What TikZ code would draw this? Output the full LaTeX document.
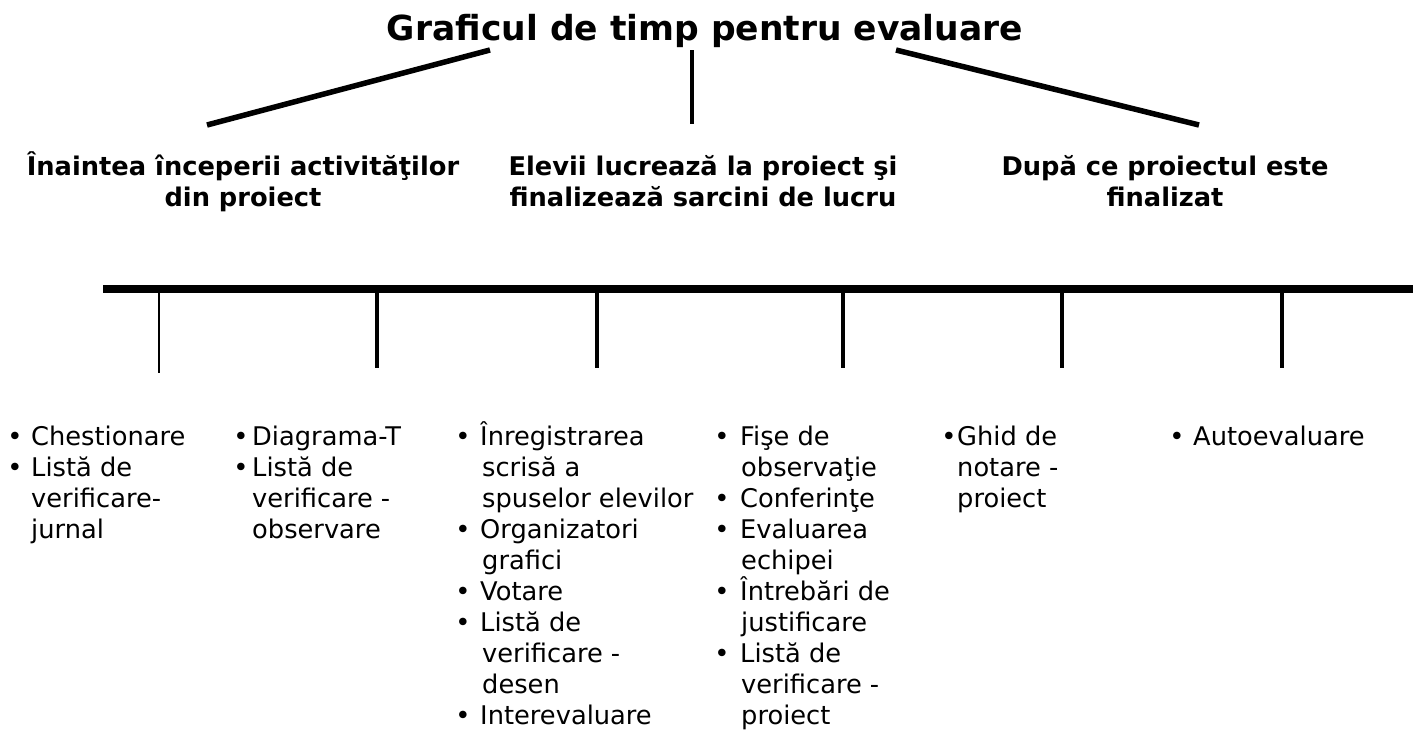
\documentclass[tikz,border=0pt]{standalone}
\usepackage{fontspec}
\setmainfont{DejaVu Sans}
\tikzset{
  txt/.style={font=\fontsize{25.7}{31}\selectfont, inner sep=0pt, anchor=base west},
  bul/.style={font=\fontsize{25.7}{31}\selectfont, inner sep=0pt, anchor=base},
  hd/.style={font=\bfseries\fontsize{25.7}{31}\selectfont, inner sep=0pt, anchor=base},
  ttl/.style={font=\bfseries\fontsize{34.5}{40}\selectfont, inner sep=0pt, anchor=base},
  slant/.style={line width=5.5pt},
  axis/.style={line width=7.5pt},
  tick/.style={line width=4pt},
  thintick/.style={line width=2pt}
}
\begin{document}
\begin{tikzpicture}[x=1pt,y=-1pt]
\useasboundingbox (0,0) rectangle (1413,731);
% title
\node[ttl] (title) at (705,40) {Graficul de timp pentru evaluare};
% branch lines
\coordinate (l1s) at (490,50); \coordinate (l1e) at (207,125);
\coordinate (l2s) at (692,50); \coordinate (l2e) at (692,124);
\coordinate (l3s) at (896,50); \coordinate (l3e) at (1199,125);
\draw[slant] (l1s) -- (l1e);
\draw[line width=3.5pt] (l2s) -- (l2e);
\draw[slant] (l3s) -- (l3e);
% headings
\node[hd] (h1a) at (243,175) {Înaintea începerii activităţilor};
\node[hd] (h1b) at (243,206) {din proiect};
\node[hd] (h2a) at (703,175) {Elevii lucrează la proiect şi};
\node[hd] (h2b) at (703,206) {finalizează sarcini de lucru};
\node[hd] (h3a) at (1165,175) {După ce proiectul este};
\node[hd] (h3b) at (1165,206) {finalizat};
% timeline
\coordinate (ta) at (103,289); \coordinate (tb) at (1413,289);
\draw[axis] (ta) -- (tb);
\coordinate (t1) at (159,289); \coordinate (t1e) at (159,373);
\coordinate (t2) at (377,289); \coordinate (t2e) at (377,368);
\coordinate (t3) at (597,289); \coordinate (t3e) at (597,368);
\coordinate (t4) at (843,289); \coordinate (t4e) at (843,368);
\coordinate (t5) at (1062,289); \coordinate (t5e) at (1062,368);
\coordinate (t6) at (1282,289); \coordinate (t6e) at (1282,368);
\draw[thintick] (t1) -- (t1e);
\draw[tick] (t2) -- (t2e);
\draw[tick] (t3) -- (t3e);
\draw[tick] (t4) -- (t4e);
\draw[tick] (t5) -- (t5e);
\draw[tick] (t6) -- (t6e);
% column 1
\node[bul] (b11) at (15,445) {•};
\node[txt] (c11) at (31,445) {Chestionare};
\node[bul] (b12) at (15,476) {•};
\node[txt] (c12) at (31,476) {Listă de};
\node[txt] (c13) at (31,507) {verificare-};
\node[txt] (c14) at (31,538) {jurnal};
% column 2
\node[bul] (b21) at (241,445) {•};
\node[txt] (c21) at (252,445) {Diagrama-T};
\node[bul] (b22) at (241,476) {•};
\node[txt] (c22) at (252,476) {Listă de};
\node[txt] (c23) at (252,507) {verificare -};
\node[txt] (c24) at (252,538) {observare};
% column 3
\node[bul] (b31) at (463,445) {•};
\node[txt] (c31) at (480,445) {Înregistrarea};
\node[txt] (c32) at (482,476) {scrisă a};
\node[txt] (c33) at (482,507) {spuselor elevilor};
\node[bul] (b34) at (463,538) {•};
\node[txt] (c34) at (480,538) {Organizatori};
\node[txt] (c35) at (482,569) {grafici};
\node[bul] (b36) at (463,600) {•};
\node[txt] (c36) at (480,600) {Votare};
\node[bul] (b37) at (463,631) {•};
\node[txt] (c37) at (480,631) {Listă de};
\node[txt] (c38) at (482,662) {verificare -};
\node[txt] (c39) at (482,693) {desen};
\node[bul] (b310) at (463,724) {•};
\node[txt] (c310) at (480,724) {Interevaluare};
% column 4
\node[bul] (b41) at (722,445) {•};
\node[txt] (c41) at (740,445) {Fişe de};
\node[txt] (c42) at (741,476) {observaţie};
\node[bul] (b43) at (722,507) {•};
\node[txt] (c43) at (740,507) {Conferinţe};
\node[bul] (b44) at (722,538) {•};
\node[txt] (c44) at (740,538) {Evaluarea};
\node[txt] (c45) at (741,569) {echipei};
\node[bul] (b46) at (722,600) {•};
\node[txt] (c46) at (740,600) {Întrebări de};
\node[txt] (c47) at (741,631) {justificare};
\node[bul] (b48) at (722,662) {•};
\node[txt] (c48) at (740,662) {Listă de};
\node[txt] (c49) at (741,693) {verificare -};
\node[txt] (c410) at (741,724) {proiect};
% column 5
\node[bul] (b51) at (949,445) {•};
\node[txt] (c51) at (957,445) {Ghid de};
\node[txt] (c52) at (957,476) {notare -};
\node[txt] (c53) at (957,507) {proiect};
% column 6
\node[bul] (b61) at (1177,445) {•};
\node[txt] (c61) at (1193,445) {Autoevaluare};
\end{tikzpicture}
\end{document}
